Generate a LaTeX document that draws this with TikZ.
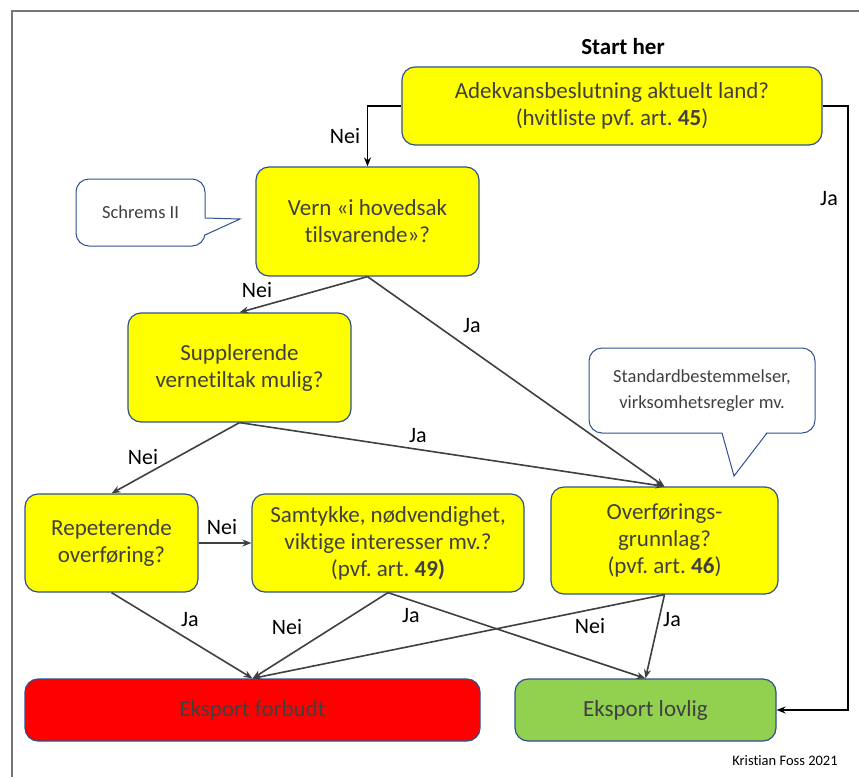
\documentclass[tikz,border=0pt]{standalone}
\usepackage{fontspec}
\setmainfont{Carlito}[Ligatures=NoCommon]
\usetikzlibrary{arrows.meta,calc}
\definecolor{boxblue}{HTML}{2F528F}
\definecolor{txtgray}{HTML}{404040}
\definecolor{lngray}{HTML}{404040}
\definecolor{yel}{HTML}{FFFF00}
\definecolor{grn}{HTML}{92D050}
\definecolor{frame}{HTML}{767676}
\frenchspacing
\begin{document}
\begin{tikzpicture}[x=1pt,y=-1pt,
  qbox/.style={draw=boxblue,line width=1.2pt,fill=yel,rounded corners=13pt,align=center,
    text=txtgray,font=\fontsize{23}{27}\selectfont,inner sep=0pt},
  endbox/.style={draw=boxblue,line width=1.2pt,rounded corners=13pt,align=center,
    text=txtgray,font=\fontsize{23}{27}\selectfont,inner sep=0pt},
  callbox/.style={draw=boxblue,line width=1pt,fill=white,rounded corners=13pt,align=center,
    text=txtgray,font=\fontsize{18.5}{26}\selectfont,inner sep=0pt},
  conn/.style={draw=lngray,line width=1.6pt,-{Stealth[length=9pt,width=7pt]}},
  bconn/.style={draw=black,line width=1.6pt,-{Stealth[length=9pt,width=7pt]}},
  lab/.style={font=\fontsize{22}{24}\selectfont,text=black,inner sep=0pt}
]
\useasboundingbox (0,0) rectangle (859,777);
\fill[white] (0,0) rectangle (859,777);
\draw[frame,line width=1.4pt] (12,777) -- (12,11) -- (859,11);

\node[font=\bfseries\fontsize{23}{27}\selectfont,inner sep=0pt] (start) at (623,47) {Start her};

\node[qbox,minimum width=420,minimum height=78] (ad) at (612,106)
  {Adekvansbeslutning aktuelt land?\\(hvitliste pvf. art. \textbf{45})};
\node[qbox,minimum width=223,minimum height=109] (vern) at (367.5,221.5)
  {Vern «i hovedsak\\tilsvarende»?};
\node[qbox,minimum width=223,minimum height=109] (sup) at (239.5,367.5)
  {Supplerende\\vernetiltak mulig?};
\node[qbox,minimum width=173,minimum height=98] (rep) at (111.5,543)
  {Repeterende\\overføring?};
\node[qbox,minimum width=272,minimum height=98] (sam) at (388,543)
  {Samtykke, nødvendighet,\\viktige interesser mv.?\\(pvf. art. \textbf{49)}};
\node[qbox,minimum width=227,minimum height=107] (ov) at (664.5,540.5)
  {Overførings-\\grunnlag?\\(pvf. art. \textbf{46})};
\node[endbox,fill=red,minimum width=455,minimum height=62] (forb) at (252.5,710)
  {Eksport forbudt};
\node[endbox,fill=grn,minimum width=261,minimum height=62] (lov) at (645.5,710)
  {Eksport lovlig};

% callouts
\node[callbox,minimum width=129,minimum height=67] (schrems) at (140.5,212.5) {Schrems II};
\coordinate (s1) at (205,218);
\coordinate (stip) at (240,219);
\coordinate (s2) at (205,235);
\fill[white] ($(s1)+(-1.5,0)$) -- (stip) -- ($(s2)+(-1.5,0)$) -- cycle;
\draw[boxblue,line width=1pt] (s1) -- (stip) -- (s2);

\node[callbox,minimum width=226,minimum height=85] (std) at (702,390.5)
  {Standardbestemmelser,\\virksomhetsregler mv.};
\coordinate (t1) at (722,433);
\coordinate (ttip) at (734,476);
\coordinate (t2) at (767,433);
\fill[white] ($(t1)+(0,-1.5)$) -- (ttip) -- ($(t2)+(0,-1.5)$) -- cycle;
\draw[boxblue,line width=1pt] (t1) -- (ttip) -- (t2);

% connectors
\draw[bconn] (ad.west) -| (vern.north);
\coordinate (rj) at (848,106);
\draw[bconn] (ad.east) -- (rj) |- (lov.east);
\draw[conn] (vern.south) -- (sup.north);
\draw[conn] (vern.south) -- (ov.north);
\draw[conn] (sup.south) -- (rep.north);
\draw[conn] (sup.south) -- (ov.north);
\draw[conn] (rep.east) -- (sam.west);
\draw[conn] (rep.south) -- (forb.north);
\draw[conn] (sam.south) -- (forb.north);
\draw[conn] (sam.south) -- (lov.north);
\draw[conn] (ov.south) -- (forb.north);
\draw[conn] (ov.south) -- (lov.north);

% labels
\node[lab] (l1) at (345,136) {Nei};
\node[lab] (l2) at (829,199) {Ja};
\node[lab] (l3) at (257,290) {Nei};
\node[lab] (l4) at (472,326) {Ja};
\node[lab] (l5) at (143,457) {Nei};
\node[lab] (l6) at (418,436) {Ja};
\node[lab] (l7) at (222,527) {Nei};
\node[lab] (l8) at (190,620) {Ja};
\node[lab] (l9) at (287,627) {Nei};
\node[lab] (l10) at (411,616) {Ja};
\node[lab] (l11) at (590,626) {Nei};
\node[lab] (l12) at (672,620) {Ja};

\node[font=\fontsize{14.5}{17}\selectfont,inner sep=0pt] (cred) at (785,761) {Kristian Foss 2021};
\end{tikzpicture}
\end{document}
